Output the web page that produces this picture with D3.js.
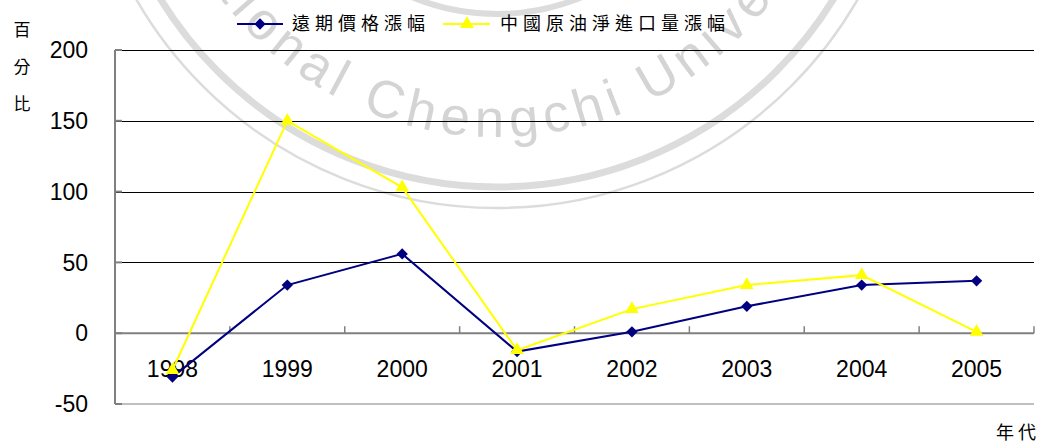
<!DOCTYPE html>
<meta charset="utf-8">
<script src="https://cdn.jsdelivr.net/npm/d3@7/dist/d3.min.js"></script>
<style>
body { margin: 0; background: #fff; }
text { font-family: Arial, "Liberation Sans", sans-serif; fill: #000; }
.cjk { font-family: "Noto Sans CJK TC", sans-serif; }
.grid { stroke: #000; stroke-width: 1px; shape-rendering: crispEdges; }
.axisline { stroke: #808080; fill: none; }
.wm { fill: none; stroke: #dcdcdc; }
</style>
<body>
<script>

// chart data
var years = ["1998", "1999", "2000", "2001", "2002", "2003", "2004", "2005"];
var futures = [-31, 34, 56, -13, 1, 19, 34, 37];      // 遠期價格漲幅
var imports = [-26, 150, 103, -12, 17, 34, 41, 1];    // 中國原油淨進口量漲幅
var yTicks = [-50, 0, 50, 100, 150, 200];
var seriesNames = ["遠期價格漲幅", "中國原油淨進口量漲幅"];

var width = 1046,
    height = 445;

var svg = d3.select("body").append("svg")
    .attr("width", width)
    .attr("height", height);

var x = d3.scaleBand().domain(years).range([115, 1034]);
var y = d3.scaleLinear().domain([-50, 200]).range([404, 50]);

// watermark behind everything
var wcx = 497, wcy = -208;
var wm = svg.append("g");
[[395, 7], [416, 2.5], [222, 6], [206, 2]].forEach(function(r) {
  wm.append("circle").attr("class", "wm")
    .attr("cx", wcx).attr("cy", wcy).attr("r", r[0])
    .attr("stroke-width", r[1]);
});
var tr = 345;
wm.append("path")
    .attr("id", "wmpath")
    .attr("fill", "none")
    .attr("d", "M" + (wcx - tr) + "," + wcy + " A" + tr + "," + tr + " 0 0 0 " + (wcx + tr) + "," + wcy);
wm.append("text")
    .style("font-size", "53px")
    .style("fill", "#d4d4d4")
    .style("letter-spacing", "6.5px")
  .append("textPath")
    .attr("href", "#wmpath")
    .attr("startOffset", Math.PI * tr / 2 + 24)
    .attr("text-anchor", "middle")
    .text("National Chengchi University");

// gridlines
svg.selectAll(".grid")
    .data(yTicks.filter(function(d) { return d > 0; }))
  .enter().append("line")
    .attr("class", "grid")
    .attr("x1", 115).attr("x2", 1034)
    .attr("y1", function(d) { return Math.round(y(d)) + 0.5; })
    .attr("y2", function(d) { return Math.round(y(d)) + 0.5; });

svg.append("line")
    .attr("class", "axisline")
    .attr("x1", 115).attr("x2", 1034)
    .attr("y1", y(-50)).attr("y2", y(-50));

// left axis with inward ticks
svg.append("line")
    .attr("class", "axisline")
    .attr("stroke-width", 2)
    .attr("x1", 115).attr("x2", 115)
    .attr("y1", y(200)).attr("y2", y(-50));
svg.selectAll(".ytick")
    .data(yTicks)
  .enter().append("line")
    .attr("class", "axisline")
    .attr("stroke-width", 2)
    .attr("x1", 115).attr("x2", 122)
    .attr("y1", function(d) { return y(d); })
    .attr("y2", function(d) { return y(d); });

svg.selectAll(".ylab")
    .data(yTicks)
  .enter().append("text")
    .attr("x", 88)
    .attr("y", function(d) { return y(d); })
    .attr("dy", "0.36em")
    .attr("text-anchor", "end")
    .style("font-size", "23px")
    .text(function(d) { return d; });

// zero line with category ticks
svg.append("line")
    .attr("class", "axisline")
    .attr("stroke-width", 2)
    .attr("x1", 115).attr("x2", 1034)
    .attr("y1", y(0)).attr("y2", y(0));
svg.selectAll(".xtick")
    .data(years)
  .enter().append("line")
    .attr("class", "axisline")
    .attr("stroke-width", 1.5)
    .attr("x1", function(d) { return x(d) + x.bandwidth(); })
    .attr("x2", function(d) { return x(d) + x.bandwidth(); })
    .attr("y1", y(0)).attr("y2", y(0) - 7);

svg.selectAll(".xlab")
    .data(years)
  .enter().append("text")
    .attr("x", function(d) { return x(d) + x.bandwidth() / 2; })
    .attr("y", 369)
    .attr("dy", "0.36em")
    .attr("text-anchor", "middle")
    .style("font-size", "23px")
    .text(function(d) { return d; });

// series
var line = d3.line()
    .x(function(d, i) { return x(years[i]) + x.bandwidth() / 2; })
    .y(function(d) { return y(d); });

var diamond = d3.symbol().type(d3.symbolSquare).size(64);
var triangle = d3.symbol().type(d3.symbolTriangle).size(80);

svg.append("path")
    .datum(futures)
    .attr("fill", "none")
    .attr("stroke", "#000080")
    .attr("stroke-width", 2)
    .attr("d", line);
svg.selectAll(".dmark")
    .data(futures)
  .enter().append("path")
    .attr("fill", "#000080")
    .attr("d", diamond)
    .attr("transform", function(d, i) {
      return "translate(" + (x(years[i]) + x.bandwidth() / 2) + "," + y(d) + ") rotate(45)"; });

svg.append("path")
    .datum(imports)
    .attr("fill", "none")
    .attr("stroke", "#ffff00")
    .attr("stroke-width", 2)
    .attr("d", line);
svg.selectAll(".tmark")
    .data(imports)
  .enter().append("path")
    .attr("fill", "#ffff00")
    .attr("d", triangle)
    .attr("transform", function(d, i) {
      return "translate(" + (x(years[i]) + x.bandwidth() / 2) + "," + y(d) + ")"; });

// legend
var legend = svg.append("g");
legend.append("line").attr("x1", 237).attr("x2", 283).attr("y1", 24).attr("y2", 24)
    .attr("stroke", "#000080").attr("stroke-width", 2);
legend.append("path").attr("fill", "#000080").attr("d", diamond)
    .attr("transform", "translate(260,24) rotate(45)");
legend.append("text").attr("class", "cjk")
    .attr("x", 292).attr("y", 24).attr("dy", "0.36em")
    .style("font-size", "18px").style("letter-spacing", "5px")
    .text(seriesNames[0]);

legend.append("line").attr("x1", 443).attr("x2", 490).attr("y1", 24).attr("y2", 24)
    .attr("stroke", "#ffff00").attr("stroke-width", 2);
legend.append("path").attr("fill", "#ffff00").attr("d", triangle)
    .attr("transform", "translate(467,24)");
legend.append("text").attr("class", "cjk")
    .attr("x", 500).attr("y", 24).attr("dy", "0.36em")
    .style("font-size", "18px").style("letter-spacing", "5px")
    .text(seriesNames[1]);

// axis titles
svg.selectAll(".ytitle")
    .data(["百", "分", "比"])
  .enter().append("text")
    .attr("class", "cjk")
    .attr("x", 22)
    .attr("y", function(d, i) { return 30 + i * 37; })
    .attr("dy", "0.36em")
    .attr("text-anchor", "middle")
    .style("font-size", "17px")
    .text(function(d) { return d; });

svg.append("text")
    .attr("class", "cjk")
    .attr("x", 1040).attr("y", 433).attr("dy", "0.36em")
    .attr("text-anchor", "end")
    .style("font-size", "18px").style("letter-spacing", "4px")
    .text("年代");

</script>
</body>
